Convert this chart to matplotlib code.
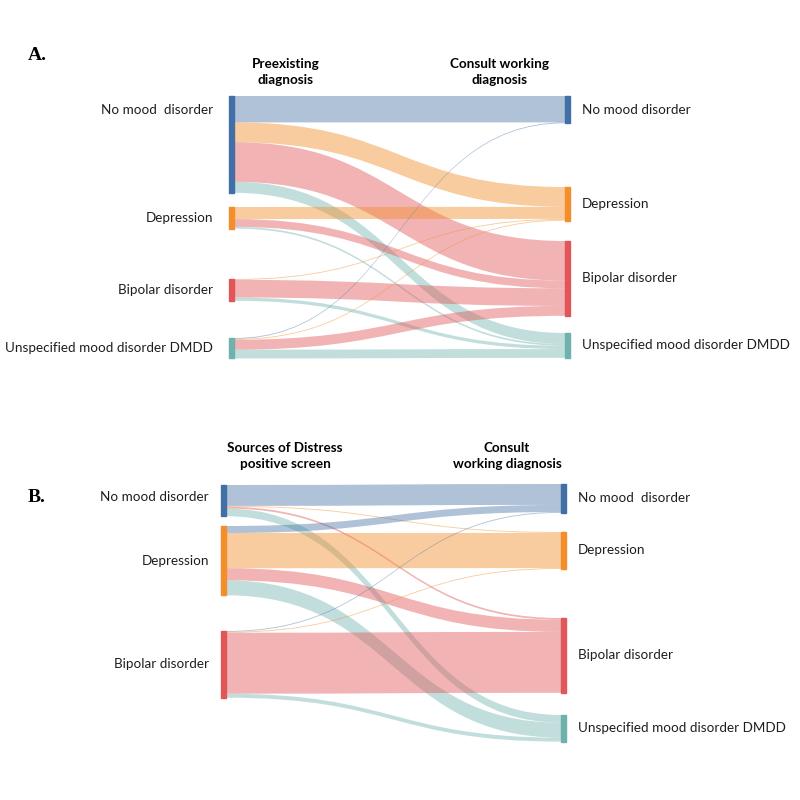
import numpy as np
import matplotlib.pyplot as plt
from matplotlib.path import Path
from matplotlib.patches import PathPatch, Rectangle

# ---- data ----
# panel A: preexisting diagnosis -> consult working diagnosis
a_left_labels = ["No mood  disorder", "Depression", "Bipolar disorder",
                 "Unspecified mood disorder DMDD"]
a_right_labels = ["No mood disorder", "Depression", "Bipolar disorder",
                  "Unspecified mood disorder DMDD"]
# rows = source, cols = target (No mood, Depression, Bipolar, Unspecified)
a_flows = [[12.0, 9.0, 18.0, 5.0],
           [0.0, 5.5, 3.5, 0.8],
           [0.0, 0.4, 8.0, 1.5],
           [0.4, 0.4, 4.5, 4.0]]
a_left_colors = [0, 1, 2, 3]

# panel B: sources of distress positive screen -> consult working diagnosis
b_left_labels = ["No mood disorder", "Depression", "Bipolar disorder"]
b_right_labels = ["No mood  disorder", "Depression", "Bipolar disorder",
                  "Unspecified mood disorder DMDD"]
b_flows = [[9.5, 0.4, 0.8, 3.5],
           [3.2, 16.0, 5.5, 6.8],
           [0.4, 0.4, 27.7, 1.8]]
b_left_colors = [0, 1, 2]

# ---- style / layout ----
node_cols = ["#4270a6", "#f28e2b", "#e15759", "#6fb1ac"]
link_cols = ["#4e79a7", "#f28e2b", "#e15759", "#76b7b2"]
PX = 2.2          # pixels per unit
BAR_W = 5
FONT = "Lato"
FS = 9.7

fig = plt.figure(figsize=(8, 8), dpi=100)
ax = fig.add_axes([0, 0, 1, 1])
ax.set_xlim(0, 800)
ax.set_ylim(800, 0)
ax.axis("off")


def band(x0, x1, t0, b0, t1, b1, color):
    xm = (x0 + x1) / 2
    verts = [(x0, t0), (xm, t0), (xm, t1), (x1, t1),
             (x1, b1), (xm, b1), (xm, b0), (x0, b0), (x0, t0)]
    codes = [Path.MOVETO, Path.CURVE4, Path.CURVE4, Path.CURVE4,
             Path.LINETO, Path.CURVE4, Path.CURVE4, Path.CURVE4, Path.CLOSEPOLY]
    ax.add_patch(PathPatch(Path(verts, codes), facecolor=color, edgecolor="none",
                           alpha=0.45, zorder=1))


def sankey(flows, left_cols, xl, xr, left_tops, right_tops,
           left_labels, right_labels, left_lab_y=None, lab_pad=16):
    flows = np.array(flows)
    out_tot = flows.sum(axis=1) * PX
    in_tot = flows.sum(axis=0) * PX
    in_off = list(right_tops)
    for i in range(flows.shape[0]):
        y = left_tops[i]
        for j in range(flows.shape[1]):
            h = flows[i, j] * PX
            if h <= 0:
                continue
            band(xl + BAR_W, xr, y, y + h, in_off[j], in_off[j] + h, link_cols[j])
            y += h
            in_off[j] += h
    for i, t in enumerate(left_tops):
        ax.add_patch(Rectangle((xl, t), BAR_W, out_tot[i],
                               color=node_cols[left_cols[i]], zorder=2))
        ly = t + out_tot[i] / 2
        if left_lab_y is not None and left_lab_y[i] is not None:
            ly = left_lab_y[i]
        ax.text(xl - lab_pad, ly, left_labels[i], ha="right", va="center",
                fontsize=FS, family=FONT, color="#1e1e1e")
    for j, t in enumerate(right_tops):
        ax.add_patch(Rectangle((xr, t), BAR_W, in_tot[j],
                               color=node_cols[j], zorder=2))
        ax.text(xr + BAR_W + 12, t + in_tot[j] / 2, right_labels[j], ha="left",
                va="center", fontsize=FS, family=FONT, color="#1e1e1e")


# panel A
sankey(a_flows, a_left_colors, 229, 565, [96, 207, 279, 338], [96, 187, 241, 333],
       a_left_labels, a_right_labels, left_lab_y=[110, None, None, None])
ax.text(28, 55, "A.", fontsize=14, fontweight="bold", family="Liberation Serif",
        ha="left", va="center")
ax.text(286, 72, "Preexisting\ndiagnosis", fontsize=9.7, fontweight="bold",
        family=FONT, ha="center", va="center", linespacing=1.3)
ax.text(500, 72, "Consult working\ndiagnosis", fontsize=9.7, fontweight="bold",
        family=FONT, ha="center", va="center", linespacing=1.3)

# panel B
sankey(b_flows, b_left_colors, 221, 561, [485, 526, 631], [484, 532, 618, 715],
       b_left_labels, b_right_labels, left_lab_y=[497, None, None], lab_pad=12)
ax.text(28, 497, "B.", fontsize=14, fontweight="bold", family="Liberation Serif",
        ha="left", va="center")
ax.text(285, 456, "Sources of Distress\npositive screen", fontsize=9.7,
        fontweight="bold", family=FONT, ha="center", va="center", linespacing=1.3)
ax.text(507, 456, "Consult\nworking diagnosis", fontsize=9.7, fontweight="bold",
        family=FONT, ha="center", va="center", linespacing=1.3)

fig.savefig("out.png", dpi=100, facecolor="white")
